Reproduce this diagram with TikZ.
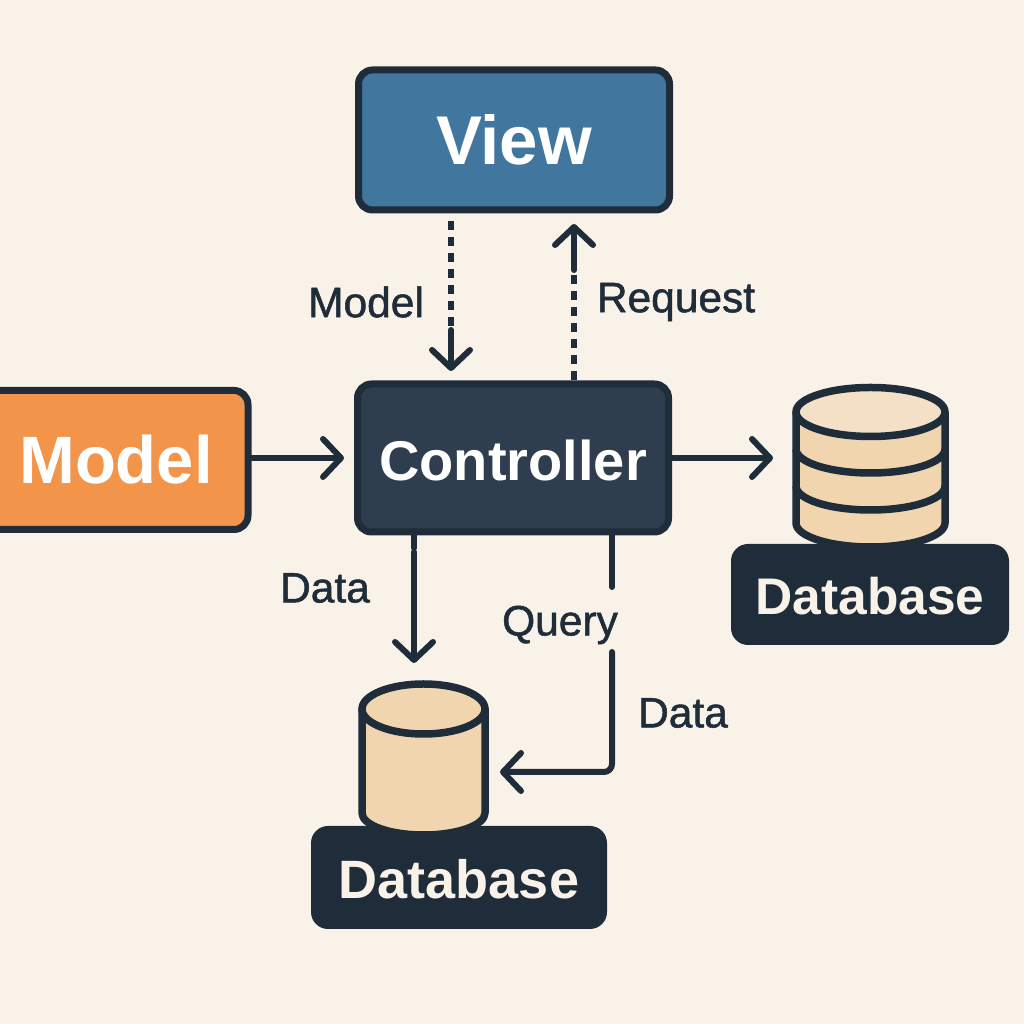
\documentclass[tikz,border=0pt]{standalone}
\usepackage{fontspec}
\setmainfont{Liberation Sans}
\newfontfamily\lblfont[BoldFont=Liberation Sans,BoldFeatures={FakeBold=1.2}]{Liberation Sans}
\usetikzlibrary{arrows.meta}
\definecolor{ink}{HTML}{1F2D3A}
\definecolor{paper}{HTML}{F9F2E8}
\definecolor{viewblue}{HTML}{41769F}
\definecolor{ctrlgrey}{HTML}{2F3E4E}
\definecolor{modelorange}{HTML}{F2954B}
\definecolor{dbside}{HTML}{F0D5AE}
\definecolor{dbtop}{HTML}{F3E0C7}
\begin{document}
\begin{tikzpicture}[x=1pt,y=1pt,line join=round,
  box/.style={draw=ink,line width=7pt,rounded corners=14pt,font=\bfseries,text=white},
  tag/.style={fill=ink,rounded corners=17pt,text=paper},
  lbl/.style={text=ink,font=\fontsize{42.5}{42.5}\selectfont\lblfont\bfseries,inner sep=0pt},
  wire/.style={draw=ink,line width=6pt,line cap=round},
  flow/.style={wire,-{Straight Barb[length=18pt,width=38pt,round]}},
  dashwire/.style={draw=ink,line width=6pt,dash pattern=on 9pt off 7pt},
  can/.style={draw=ink,line width=7.5pt,fill=dbside}]
\useasboundingbox[fill=paper] (0,0) rectangle (1024,1024);
% boxes
\node[box,fill=viewblue,minimum width=311pt,minimum height=140pt,font=\fontsize{69}{69}\selectfont\bfseries] (view) at (514,884) {View};
\node[box,fill=ctrlgrey,minimum width=311pt,minimum height=148pt,text height=46pt,font=\fontsize{56}{56}\selectfont\bfseries] (controller) at (513,566) {Controller};
\node[box,fill=modelorange,minimum width=264pt,minimum height=139pt,font=\fontsize{67}{67}\selectfont\bfseries] (model) at (116,564) {Model};
\node[tag,minimum width=278pt,minimum height=101pt,text height=41pt,font=\fontsize{51.5}{51.5}\selectfont\bfseries] (dbright) at (870,429.5) {Database};
\node[tag,minimum width=296pt,minimum height=103pt,text height=43pt,font=\fontsize{54}{54}\selectfont\bfseries] (dbbottom) at (459,146.5) {Database};
% right stack
\draw[can] (796,611) -- (796,501) arc[start angle=180,end angle=360,x radius=74.5pt,y radius=24pt] -- (945,611) -- cycle;
\foreach \y in {575,538} {
  \draw[draw=ink,line width=7.5pt] (796,\y) arc[start angle=180,end angle=360,x radius=74.5pt,y radius=24pt];
}
\draw[can,fill=dbtop] (870.5,612) ellipse[x radius=74.5pt,y radius=24.5pt];
% bottom can
\draw[can] (362,315) -- (362,211) arc[start angle=180,end angle=360,x radius=61.5pt,y radius=22pt] -- (485,315) -- cycle;
\draw[can] (423.5,315) ellipse[x radius=61.5pt,y radius=25pt];
% connectors
\coordinate (modelbreak) at (451,694);
\coordinate (modelstart) at (451,803);
\coordinate (modeltip) at (451,653);
\coordinate (reqbreak) at (574,754);
\coordinate (reqstart) at (574,644);
\coordinate (reqtip) at (574,800);
\coordinate (infeed) at (344,566);
\coordinate (outfeed) at (773,566);
\coordinate (datagap) at (414,476);
\coordinate (dataresume) at (414,472);
\coordinate (datatip) at (414,361);
\coordinate (queryturn) at (612,252);
\coordinate (querytip) at (500,252);
\coordinate (querytop) at (612,490);
\coordinate (queryend) at (612,437);
\coordinate (queryresume) at (612,372);
\draw[dashwire] (modelstart) -- (modelbreak);
\draw[flow] (modelbreak) -- (modeltip);
\draw[dashwire] (reqstart) -- (reqbreak);
\draw[flow] (reqbreak) -- (reqtip);
\draw[flow] (model.east |- infeed) -- (infeed);
\draw[flow] (controller.east) -- (outfeed);
\draw[wire] (controller.south -| datagap) -- (datagap);
\draw[flow] (dataresume) -- (datatip);
\draw[wire] (controller.south -| querytop) -- (queryend);
\draw[flow,rounded corners=8pt] (queryresume) -- (queryturn) -- (querytip);
% labels
\node[lbl] (lblmodel) at (366,722) {Model};
\node[lbl] (lblrequest) at (676,722) {Request};
\node[lbl] (lbldataa) at (325,436) {Data};
\node[lbl] (lblquery) at (560,399) {Query};
\node[lbl] (lbldatab) at (683,311) {Data};
\end{tikzpicture}
\end{document}
